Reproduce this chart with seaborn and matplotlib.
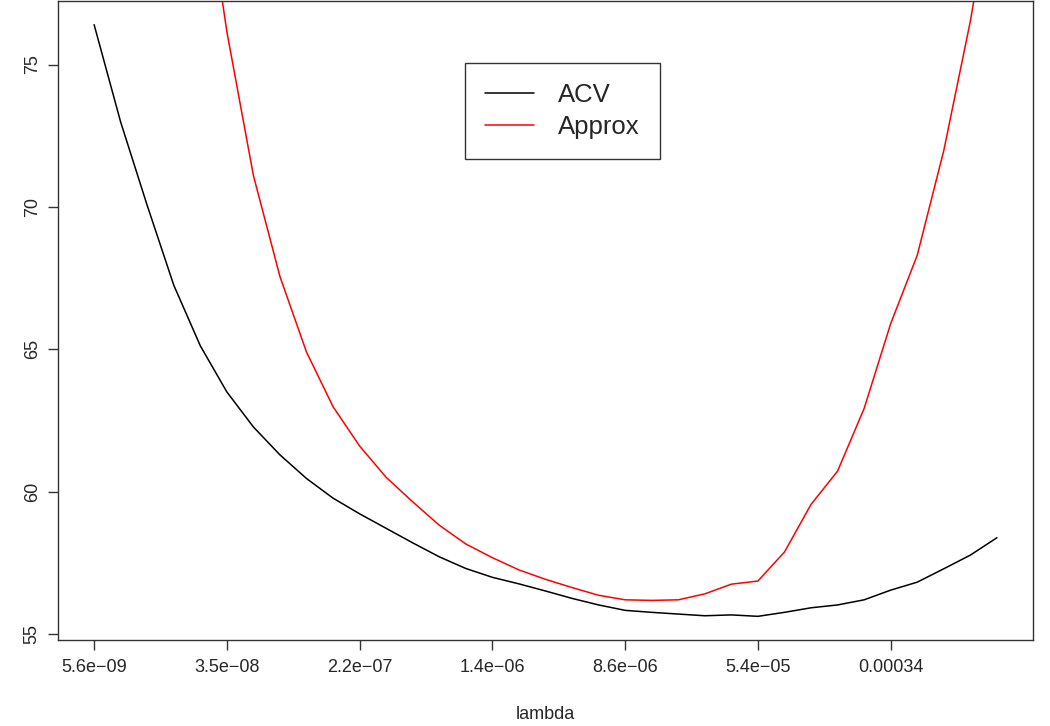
import numpy as np
import pandas as pd
import matplotlib
matplotlib.use("Agg")
import matplotlib.pyplot as plt
import seaborn as sns

# values (35 lambda values on a log grid)
acv = [76.40, 72.98, 70.05, 67.25, 65.12, 63.50, 62.27, 61.29, 60.46, 59.77,
       59.22, 58.71, 58.20, 57.71, 57.30, 56.99, 56.76, 56.51, 56.25, 56.02,
       55.83, 55.76, 55.70, 55.64, 55.67, 55.62, 55.76, 55.92, 56.02, 56.20,
       56.54, 56.82, 57.29, 57.77, 58.38]
approx = [128.0, 112.0, 100.0, 90.0, 82.5, 76.15, 71.10, 67.55, 64.90, 62.98,
          61.60, 60.50, 59.64, 58.82, 58.16, 57.68, 57.25, 56.92, 56.63, 56.36,
          56.20, 56.18, 56.20, 56.41, 56.75, 56.86, 57.88, 59.55, 60.72, 62.92,
          65.90, 68.30, 71.98, 76.52, 82.0]
tick_idx = [1, 6, 11, 16, 21, 26, 31]
tick_labels = ["5.6e\u221209", "3.5e\u221208", "2.2e\u221207", "1.4e\u221206",
               "8.6e\u221206", "5.4e\u221205", "0.00034"]
y_ticks = [55, 60, 65, 70, 75]

idx = np.arange(1, len(acv) + 1)
df = pd.DataFrame({"idx": idx, "ACV": acv, "Approx": approx})

sns.set_style("white")
plt.rcParams["font.family"] = ["Liberation Sans", "DejaVu Sans"]

fig = plt.figure(figsize=(10.5, 7.26), dpi=100)
ax = fig.add_axes([58 / 1050, 1 - 640 / 726, 975 / 1050, 639 / 726])

sns.lineplot(data=df, x="idx", y="ACV", color="black", lw=1.1, label="ACV", ax=ax)
sns.lineplot(data=df, x="idx", y="Approx", color="red", lw=1.1, label="Approx", ax=ax)

# R-style 4% axis extension, y range taken from the ACV series
xr = idx.max() - idx.min()
ax.set_xlim(idx.min() - 0.04 * xr, idx.max() + 0.04 * xr)
yr = max(acv) - min(acv)
ax.set_ylim(min(acv) - 0.04 * yr, max(acv) + 0.04 * yr)

ax.set_xticks(tick_idx)
ax.set_xticklabels(tick_labels)
ax.set_yticks(y_ticks)
ax.set_yticklabels([str(v) for v in y_ticks], rotation=90, va="center")
ax.tick_params(axis="both", direction="out", length=7.5, width=1.0,
               color="#333333", labelsize=13, pad=6, bottom=True, left=True)
ax.tick_params(axis="y", pad=5)

for s in ax.spines.values():
    s.set_color("#333333")
    s.set_linewidth(1.0)

ax.set_xlabel("lambda", fontsize=13, labelpad=22)
ax.set_ylabel("")

ax.legend(loc="upper left", bbox_to_anchor=(0.4174, 0.903), borderaxespad=0,
          fontsize=18.5, frameon=True, fancybox=False, edgecolor="black",
          borderpad=0.78, labelspacing=0.3, handlelength=1.9, handletextpad=0.95)
ax.get_legend().get_frame().set_linewidth(1.0)

fig.savefig("out.png", dpi=100)
